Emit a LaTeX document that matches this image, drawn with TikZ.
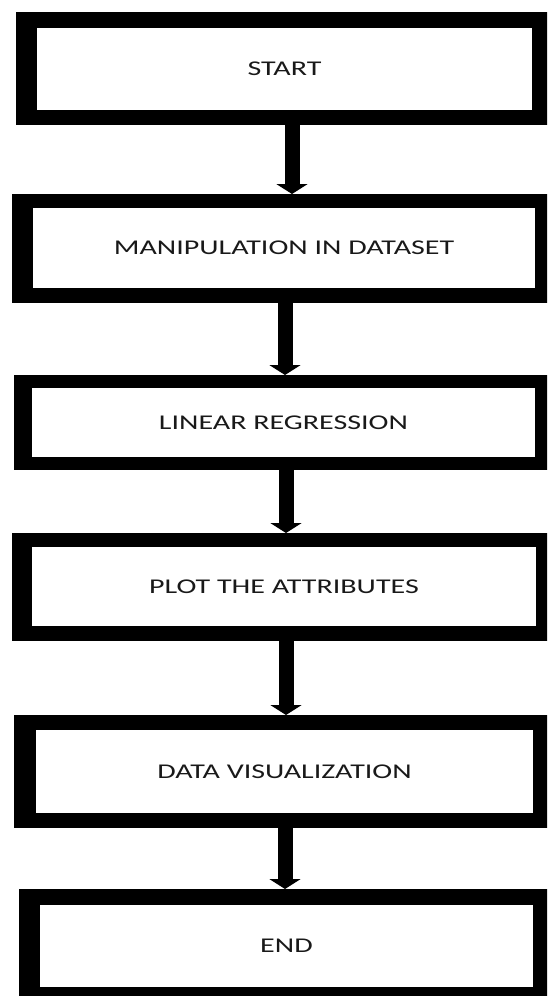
\documentclass[tikz,border=0pt]{standalone}
\usepackage{fontspec}
\setmainfont{Carlito}[FakeStretch=1.43]
\usetikzlibrary{arrows.meta}
\definecolor{txt}{RGB}{25,25,25}
\begin{document}
\begin{tikzpicture}[x=1pt,y=-1pt,
  outerbox/.style={fill=black,inner sep=0pt,outer sep=0pt},
  innerbox/.style={fill=white,inner sep=0pt,outer sep=0pt,text=txt,
    font=\fontsize{21}{25}\selectfont},
  conn/.style={line width=15pt,-{Triangle[width=31pt,length=10pt]}}]
\useasboundingbox (0,0) rectangle (547,996);
\clip (0,0) rectangle (547,996);
\fill[white] (0,0) rectangle (547,996);
% outer frames
\node[outerbox,minimum width=536pt,minimum height=113pt] (o1) at (284,68.5) {};
\node[outerbox,minimum width=540pt,minimum height=109pt] (o2) at (282,248.5) {};
\node[outerbox,minimum width=538pt,minimum height=95pt] (o3) at (283,422.5) {};
\node[outerbox,minimum width=540pt,minimum height=108pt] (o4) at (282,587) {};
\node[outerbox,minimum width=538pt,minimum height=113pt] (o5) at (283,771.5) {};
\node[outerbox,minimum width=533pt,minimum height=114pt] (o6) at (285.5,946) {};
% inner boxes with text
\node[innerbox,minimum width=495pt,minimum height=82pt] (start) at (284.5,69) {START};
\node[innerbox,minimum width=502pt,minimum height=80pt] (manip) at (284,248) {MANIPULATION IN DATASET};
\node[innerbox,minimum width=503pt,minimum height=69pt] (linreg) at (283.5,422.5) {LINEAR REGRESSION};
\node[innerbox,minimum width=504pt,minimum height=79pt] (plot) at (284,586.5) {PLOT THE ATTRIBUTES};
\node[innerbox,minimum width=497pt,minimum height=83pt] (datavis) at (284.5,771.5) {DATA VISUALIZATION};
\node[innerbox,minimum width=493pt,minimum height=82pt] (endn) at (286.5,946) {END};
% connectors
\draw[conn] ([xshift=8pt]o1.south) -- ([xshift=10pt]o2.north);
\draw[conn] ([xshift=3pt]o2.south) -- ([xshift=2pt]o3.north);
\draw[conn] ([xshift=3pt]o3.south) -- ([xshift=4pt]o4.north);
\draw[conn] ([xshift=4pt]o4.south) -- ([xshift=3pt]o5.north);
\draw[conn] ([xshift=2pt]o5.south) -- ([xshift=-0.5pt]o6.north);
\end{tikzpicture}
\end{document}
